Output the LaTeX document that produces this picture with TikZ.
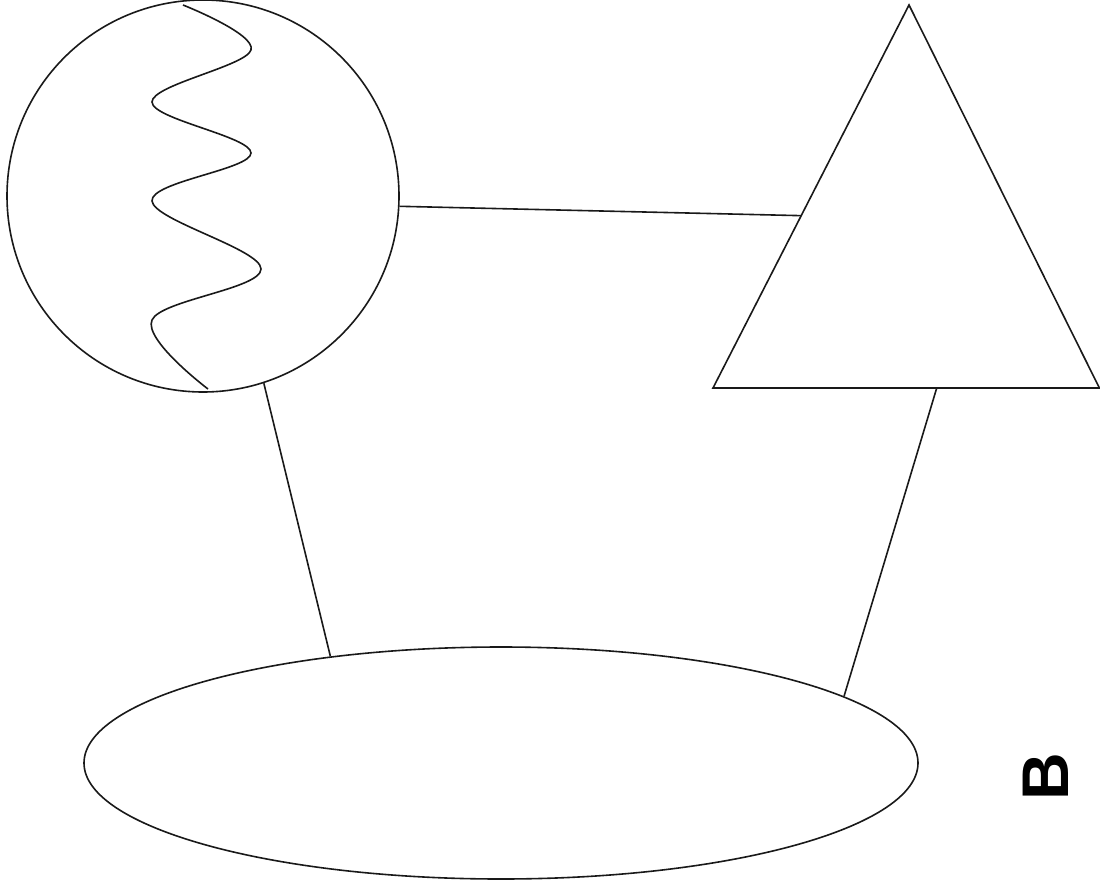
\documentclass[tikz,border=0pt]{standalone}
\usepackage{fontspec}
\setmainfont{Liberation Sans}
\usetikzlibrary{shapes.geometric,calc}
\begin{document}
\begin{tikzpicture}[x=1pt,y=-1pt,
  shape line/.style={draw=black!90,line width=1.6pt},
  conn/.style={draw=black!90,line width=1.6pt},
  label text/.style={font=\fontsize{66}{66}\selectfont\bfseries, inner sep=0pt}]
\useasboundingbox (0,0) rectangle (1100,886);
% circle with wave
\node[shape line, circle, minimum size=392pt, inner sep=0pt] (c) at (203,196) {};
\draw[shape line, line join=round] plot[smooth, tension=0.6] coordinates
  {(183,5) (251,50) (152,102) (251,153) (152,201) (261,269) (152,320) (208,389)};
% triangle
\coordinate (ta) at (909,5);
\coordinate (tl) at (713,388);
\coordinate (tr) at (1099.4,388);
\draw[shape line, line join=miter] (ta) -- (tl) -- (tr) -- cycle;
\coordinate (tleft) at ($(ta)!0.55!(tl)$);
\coordinate (tbase) at ($(tl)!0.579!(tr)$);
% ellipse
\node[shape line, ellipse, minimum width=834pt, minimum height=232pt, inner sep=0pt] (e) at (501,763) {};
% label
\node[label text, rotate=90] (b) at (1046,777) {B};
% connectors
\draw[conn] (c.-3) -- (tleft);
\draw[conn] (c.-72) -- (e.148);
\draw[conn] (tbase) -- (e.11);
\end{tikzpicture}
\end{document}
